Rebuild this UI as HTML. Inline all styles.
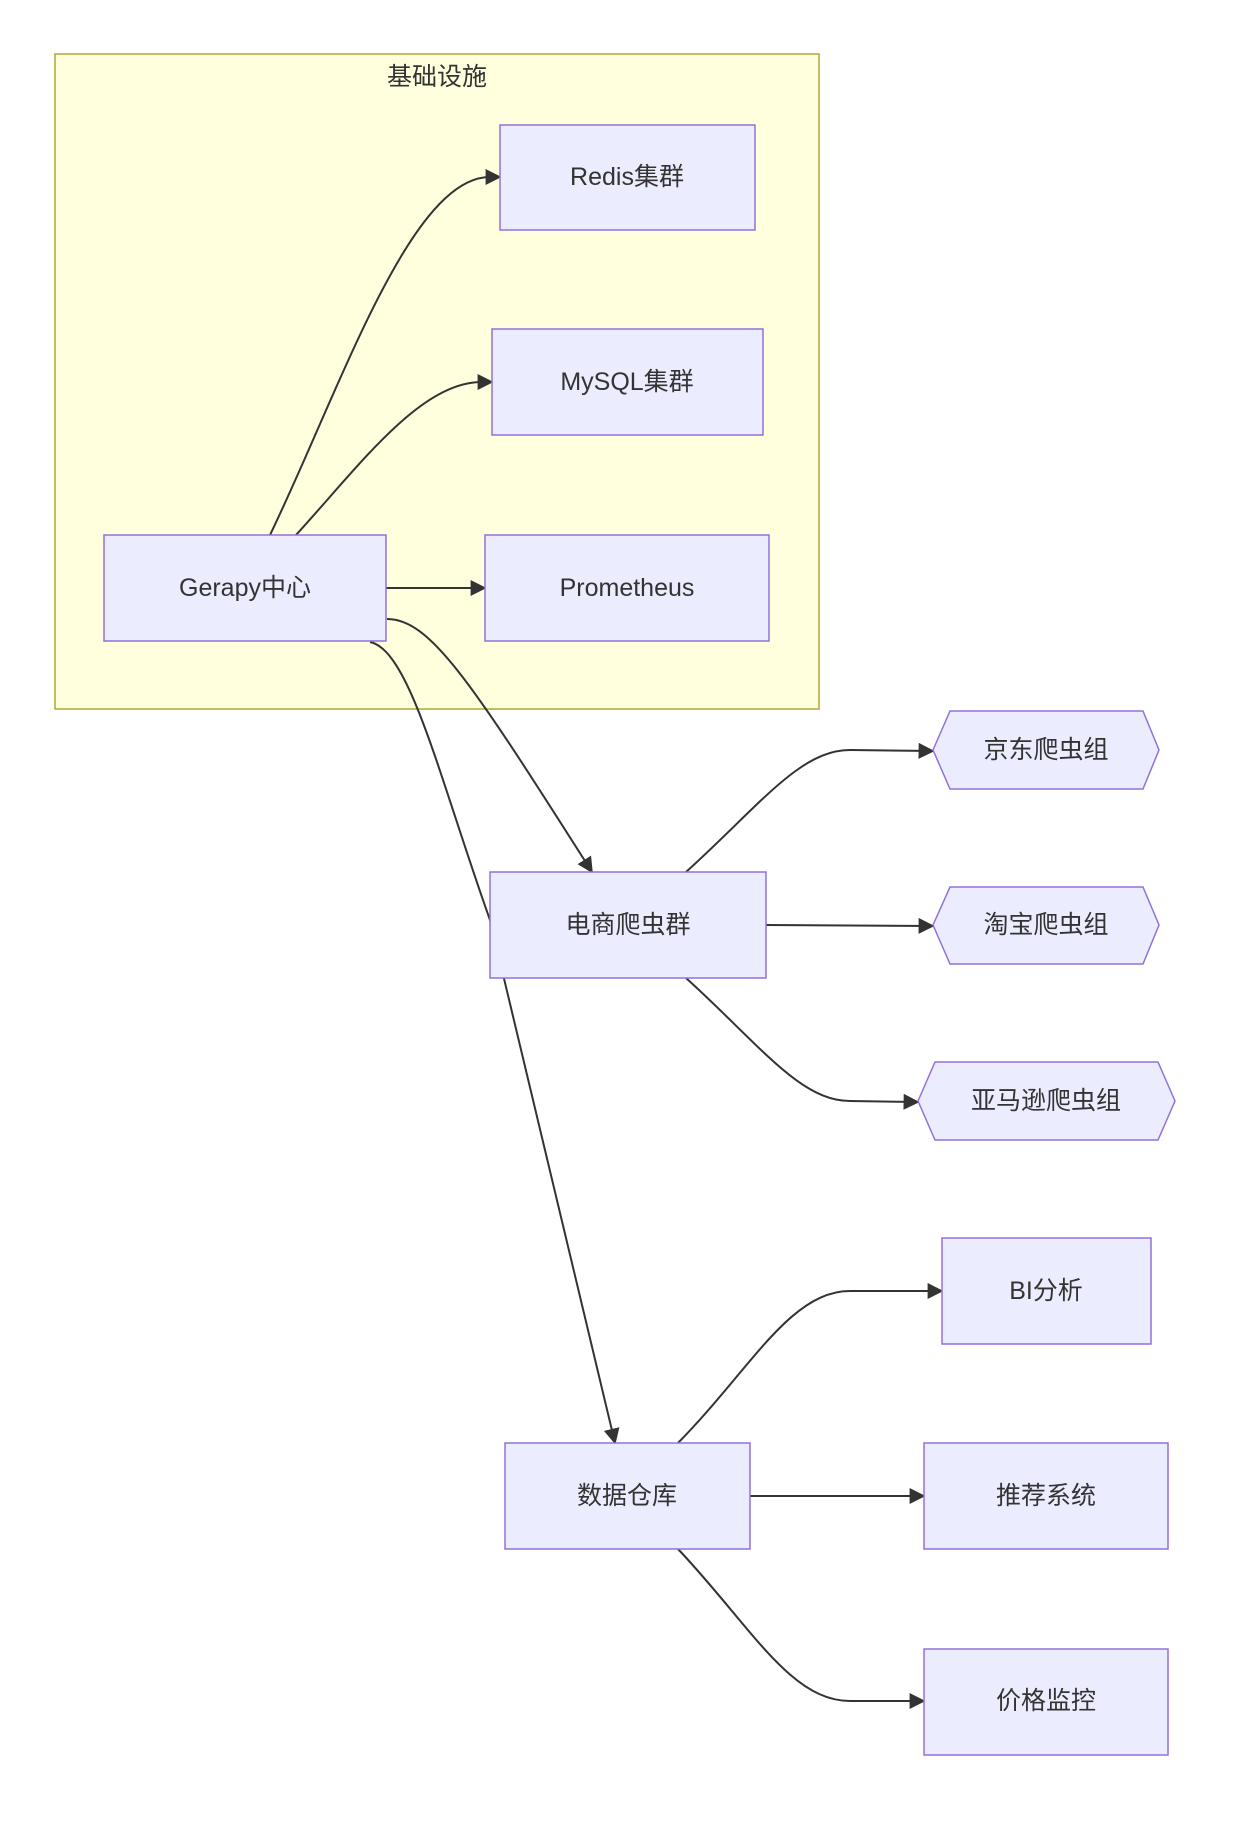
<!DOCTYPE html>
<html><head><meta charset="utf-8"><style>
html,body{margin:0;padding:0;background:#fff;}
svg text{font-family:"Liberation Sans","Noto Sans CJK SC",sans-serif;font-size:25px;fill:#333;text-anchor:middle;dominant-baseline:central;}
</style></head><body>
<svg width="1247" height="1835" viewBox="0 0 1247 1835" xmlns="http://www.w3.org/2000/svg">
<defs><marker id="a" viewBox="0 0 10 10" refX="9" refY="5" markerWidth="8" markerHeight="8" orient="auto"><path d="M0,0 L10,5 L0,10 z" fill="#333"/></marker></defs>
<rect x="55" y="54" width="764" height="655" fill="#ffffde" stroke="#aaaa33" stroke-width="1.5"/>
<text x="437" y="77">基础设施</text>
<g fill="none" stroke="#333" stroke-width="2" marker-end="url(#a)">
<path d="M270,535 C340,390 410,177 490,177 L500,177"/>
<path d="M296,535 C360,465 420,382 482,382 L492,382"/>
<path d="M386,588 L485,588"/>
<path d="M387,619 C430,619 470,680 592,872"/>
<path d="M370,642 C410,650 440,780 490,920 L615,1443"/>
<path d="M686,872 C760,805 800,750 850,750 L933,751"/>
<path d="M766,925 L933,926"/>
<path d="M686,978 C760,1045 800,1101 850,1101 L918,1102"/>
<path d="M678,1443 C750,1370 790,1291 850,1291 L942,1291"/>
<path d="M750,1496 L924,1496"/>
<path d="M678,1549 C750,1625 790,1701 850,1701 L924,1701"/>
</g>
<g fill="#ECECFF" stroke="#9370DB" stroke-width="1.5">
<rect x="500" y="125" width="255" height="105"/>
<rect x="492" y="329" width="271" height="106"/>
<rect x="485" y="535" width="284" height="106"/>
<rect x="104" y="535" width="282" height="106"/>
<rect x="490" y="872" width="276" height="106"/>
<polygon points="933,750 950,711 1143,711 1159,750 1143,789 950,789"/>
<polygon points="933,925 950,887 1143,887 1159,925 1143,964 950,964"/>
<polygon points="918,1101 935,1062 1158,1062 1175,1101 1158,1140 935,1140"/>
<rect x="942" y="1238" width="209" height="106"/>
<rect x="924" y="1443" width="244" height="106"/>
<rect x="924" y="1649" width="244" height="106"/>
<rect x="505" y="1443" width="245" height="106"/>
</g>
<text x="627" y="177">Redis集群</text>
<text x="627" y="382">MySQL集群</text>
<text x="627" y="588">Prometheus</text>
<text x="245" y="588">Gerapy中心</text>
<text x="628" y="925">电商爬虫群</text>
<text x="1046" y="750">京东爬虫组</text>
<text x="1046" y="925">淘宝爬虫组</text>
<text x="1046" y="1101">亚马逊爬虫组</text>
<text x="1046" y="1291">BI分析</text>
<text x="1046" y="1496">推荐系统</text>
<text x="1046" y="1701">价格监控</text>
<text x="627" y="1496">数据仓库</text>
</svg>
</body></html>
